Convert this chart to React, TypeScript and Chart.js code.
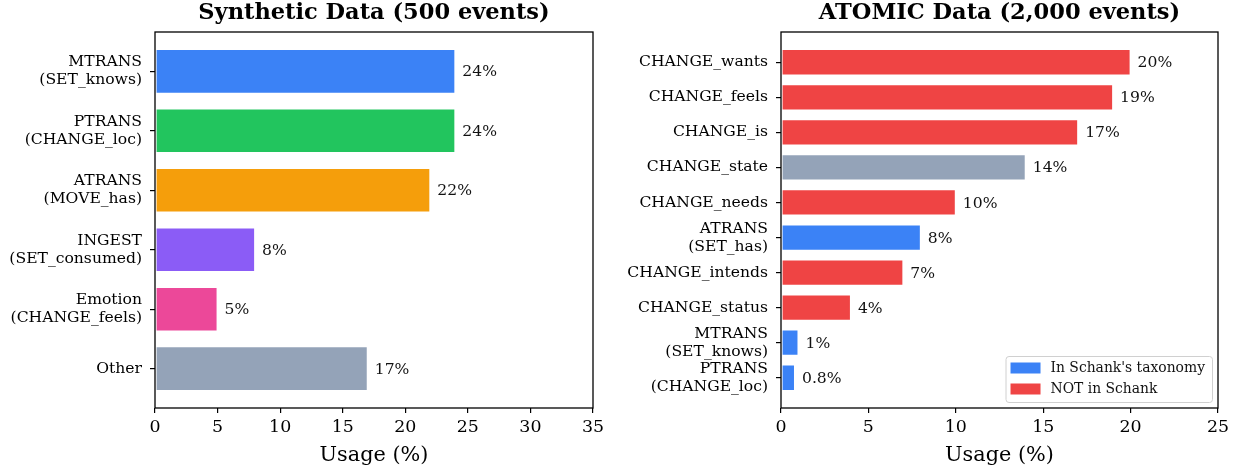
import { useEffect, useRef } from "react";
import { Chart, registerables } from "chart.js";

Chart.register(...registerables);

// ---------- data ----------
const synthTitle = "Synthetic Data (500 events)";
const synthCategories = [
  "MTRANS\n(SET_knows)",
  "PTRANS\n(CHANGE_loc)",
  "ATRANS\n(MOVE_has)",
  "INGEST\n(SET_consumed)",
  "Emotion\n(CHANGE_feels)",
  "Other",
];
const synthValues = [24, 24, 22, 8, 5, 17];
const synthColors = ["#3b82f6", "#22c55e", "#f59e0b", "#8b5cf6", "#ec4899", "#94a3b8"];
const synthXMax = 35;

const atomicTitle = "ATOMIC Data (2,000 events)";
const atomicCategories = [
  "CHANGE_wants",
  "CHANGE_feels",
  "CHANGE_is",
  "CHANGE_state",
  "CHANGE_needs",
  "ATRANS\n(SET_has)",
  "CHANGE_intends",
  "CHANGE_status",
  "MTRANS\n(SET_knows)",
  "PTRANS\n(CHANGE_loc)",
];
const atomicValues = [20, 19, 17, 14, 10, 8, 7, 4, 1, 0.8];
const atomicGroups = ["not", "not", "not", "other", "not", "in", "not", "not", "in", "in"];
const atomicXMax = 25;

const groupColors: Record<string, string> = { in: "#3b82f6", not: "#ef4444", other: "#94a3b8" };
const legendLabels = ["In Schank's taxonomy", "NOT in Schank"];
const legendColors = [groupColors.in, groupColors.not];

const xTickStep = 5;
const xAxisLabel = "Usage (%)";

// ---------- styling ----------
const FONT = "'DejaVu Serif', 'Liberation Serif', serif";

const valueLabelPlugin = {
  id: "valueLabels",
  afterDatasetsDraw(chart: any) {
    const ctx = chart.ctx;
    const meta = chart.getDatasetMeta(0);
    const vals = chart.data.datasets[0].data;
    ctx.save();
    ctx.font = `15.6px ${FONT}`;
    ctx.fillStyle = "#111";
    ctx.textAlign = "left";
    ctx.textBaseline = "middle";
    meta.data.forEach((bar: any, i: number) => {
      ctx.fillText(`${vals[i].x}%`, bar.x + 7, bar.y + 1);
    });
    ctx.restore();
  },
};

const framePlugin = {
  id: "frame",
  afterDraw(chart: any) {
    const { ctx, chartArea } = chart;
    ctx.save();
    ctx.strokeStyle = "#000";
    ctx.lineWidth = 1.3;
    ctx.strokeRect(chartArea.left, chartArea.top, chartArea.right - chartArea.left, chartArea.bottom - chartArea.top);
    ctx.restore();
  },
};

const schankLegendPlugin = {
  id: "schankLegend",
  afterDraw(chart: any) {
    const { ctx, chartArea } = chart;
    ctx.save();
    ctx.font = `13.9px ${FONT}`;
    const textW = Math.max(...legendLabels.map((l) => ctx.measureText(l).width));
    const w = 5 + 30 + 10 + textW + 7;
    const h = 46;
    const x = chartArea.right - 6 - w;
    const y = chartArea.bottom - 6 - h;
    ctx.fillStyle = "rgba(255,255,255,0.85)";
    ctx.strokeStyle = "#d0d0d0";
    ctx.lineWidth = 1;
    ctx.beginPath();
    ctx.roundRect(x + 0.5, y + 0.5, w, h, 3);
    ctx.fill();
    ctx.stroke();
    legendLabels.forEach((label, i) => {
      const cy = y + 12 + i * 21;
      ctx.fillStyle = legendColors[i];
      ctx.fillRect(x + 5, cy - 5.5, 30, 11);
      ctx.fillStyle = "#111";
      ctx.textAlign = "left";
      ctx.textBaseline = "middle";
      ctx.fillText(label, x + 45, cy);
    });
    ctx.restore();
  },
};

function makeConfig(
  title: string,
  categories: string[],
  values: number[],
  colors: string[],
  xMax: number,
  yAxisWidth: number,
  padRight: number,
  extraPlugins: any[]
) {
  const n = categories.length;
  const span = n - 1 + 0.75;
  const yMin = -0.375 - 0.05 * span;
  const yMax = n - 1 + 0.375 + 0.05 * span;
  return {
    type: "bar",
    data: {
      labels: categories,
      datasets: [
        {
          data: values.map((v, i) => ({ x: v, y: i })),
          backgroundColor: colors,
          borderColor: "rgba(255,255,255,0.6)",
          borderWidth: 1,
          borderSkipped: false,
          categoryPercentage: 1,
          barPercentage: 0.75,
        },
      ],
    },
    options: {
      indexAxis: "y",
      animation: false,
      responsive: false,
      devicePixelRatio: 1,
      layout: { padding: { left: 0, right: padRight, top: 0, bottom: 0 } },
      plugins: {
        legend: { display: false },
        tooltip: { enabled: false },
        title: {
          display: true,
          text: title,
          fullSize: false,
          color: "#000",
          font: { family: FONT, size: 22.5, weight: "bold", lineHeight: 1.0 },
          padding: { top: 1.5, bottom: 8 },
        },
      },
      scales: {
        y: {
          type: "linear",
          reverse: true,
          offset: false,
          min: yMin,
          max: yMax,
          afterBuildTicks: (scale: any) => {
            scale.ticks = categories.map((_, i) => ({ value: i }));
          },
          afterFit: (scale: any) => {
            scale.width = yAxisWidth;
          },
          border: { display: false },
          grid: {
            display: true,
            offset: false,
            drawOnChartArea: false,
            drawTicks: true,
            tickLength: 5,
            color: "#000",
            lineWidth: 1.2,
          },
          ticks: {
            color: "#000",
            padding: 8,
            autoSkip: false,
            font: { family: FONT, size: 15.6, lineHeight: 1.16 },
            callback: (value: number) => {
              const lab = categories[Math.round(value)];
              return lab ? lab.split("\n") : "";
            },
          },
        },
        x: {
          type: "linear",
          min: 0,
          max: xMax,
          afterFit: (scale: any) => {
            scale.height = 59;
          },
          border: { display: false },
          grid: {
            display: true,
            drawOnChartArea: false,
            drawTicks: true,
            tickLength: 5,
            color: "#000",
            lineWidth: 1.2,
          },
          ticks: {
            stepSize: xTickStep,
            color: "#000",
            padding: 4,
            maxRotation: 0,
            font: { family: FONT, size: 17.4 },
          },
          title: {
            display: true,
            text: xAxisLabel,
            color: "#000",
            font: { family: FONT, size: 20.8, lineHeight: 1.0 },
            padding: { top: 0, bottom: 1 },
          },
        },
      },
    },
    plugins: [valueLabelPlugin, framePlugin, ...extraPlugins],
  };
}

export default function App() {
  const leftRef = useRef<HTMLCanvasElement | null>(null);
  const rightRef = useRef<HTMLCanvasElement | null>(null);

  useEffect(() => {
    const left = new Chart(
      leftRef.current as HTMLCanvasElement,
      makeConfig(synthTitle, synthCategories, synthValues, synthColors, synthXMax, 155, 27, []) as any
    );
    const right = new Chart(
      rightRef.current as HTMLCanvasElement,
      makeConfig(
        atomicTitle,
        atomicCategories,
        atomicValues,
        atomicGroups.map((g) => groupColors[g]),
        atomicXMax,
        161,
        23,
        [schankLegendPlugin]
      ) as any
    );
    return () => {
      left.destroy();
      right.destroy();
    };
  }, []);

  return (
    <div style={{ position: "absolute", left: 0, top: 0, width: 1241, height: 467, background: "#fff" }}>
      <canvas ref={leftRef} width={620} height={467} style={{ position: "absolute", left: 0, top: 0 }} />
      <canvas ref={rightRef} width={621} height={467} style={{ position: "absolute", left: 620, top: 0 }} />
    </div>
  );
}
